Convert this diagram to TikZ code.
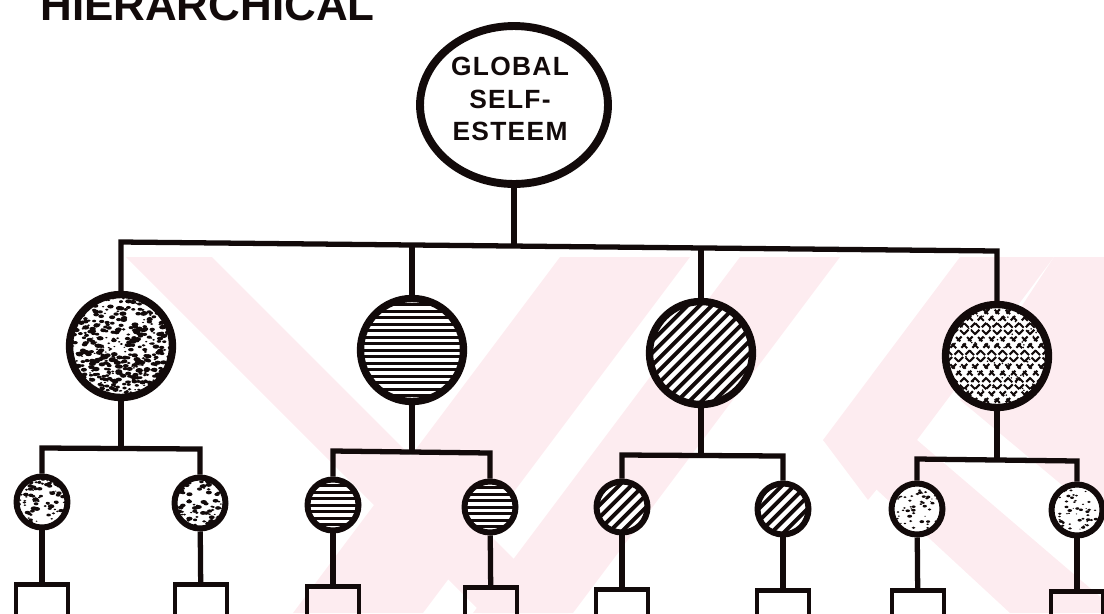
\documentclass[tikz,border=0pt]{standalone}
\usepackage{fontspec}
\setmainfont{Liberation Sans}
\newfontfamily\lblfont[LetterSpace=5]{Liberation Sans}
\newfontfamily\titlefont{Liberation Sans}
\usetikzlibrary{shapes.geometric,calc}
\definecolor{wm}{RGB}{253,236,240}
\definecolor{ink}{RGB}{18,10,10}
\tikzset{
  conn/.style={line width=3pt, draw=ink, line join=miter},
  bigc/.style={circle, draw=ink, line width=4.2pt, minimum size=2.06cm, inner sep=0pt, fill=white},
  smallc/.style={circle, draw=ink, line width=3.4pt, minimum size=1.02cm, inner sep=0pt, fill=white},
  leaf/.style={rectangle, draw=ink, line width=2.8pt, minimum width=1.04cm, minimum height=1.4cm, inner sep=0pt, anchor=north},
  hlines/.style 2 args={path picture={
      \path (path picture bounding box.center) coordinate (pc);
      \foreach \i in {-9,...,9}{\draw[ink, line width=#2] ($(pc)+(-60,\i*#1)$) -- ++(120,0);}}},
  diag/.style 2 args={path picture={
      \path (path picture bounding box.center) coordinate (pc);
      \foreach \i in {-10,...,10}{\draw[ink, line width=#2] ($(pc)+(\i*#1-60,60)$) -- ++(120,-120);}}},
  speck/.style n args={3}{path picture={
      \path (path picture bounding box.center) coordinate (pc);
      \foreach \k in {1,...,#1}{
        \pgfmathsetmacro\rx{rand*#2}
        \pgfmathsetmacro\ry{rand*#2}
        \pgfmathsetmacro\rr{#3*(0.4+1.1*rnd)}
        \pgfmathsetmacro\ra{180*rnd}
        \fill[ink, rotate around={\ra:($(pc)+(\rx,\ry)$)}] ($(pc)+(\rx,\ry)$) ellipse[x radius=1.6*\rr pt, y radius=\rr pt];}}},
  xhatch/.style 2 args={path picture={
      \path (path picture bounding box.center) coordinate (pc);
      \foreach \i in {-10,...,10}{
        \draw[ink, line width=1.2pt, dash pattern=on 3.5pt off 2pt] ($(pc)+(\i*#1-60,60)$) -- ++(120,-120);
        \draw[ink, line width=1.2pt, dash pattern=on 3.5pt off 2pt] ($(pc)+(\i*#1-60,-60)$) -- ++(120,120);}
      \foreach \k in {1,...,#2}{
        \pgfmathsetmacro\rx{rand*55}
        \pgfmathsetmacro\ry{rand*55}
        \fill[ink] ($(pc)+(\rx,\ry)$) circle[radius=0.5pt];}}},
}
\begin{document}
\begin{tikzpicture}[x=0.02cm, y=-0.02cm]
\pgfmathsetseed{7}
\useasboundingbox (0,0) rectangle (1104,613);
\clip (0,0) rectangle (1104,613);
% watermark
\begin{scope}
\fill[wm] (126,257) -- (212,257) -- (568,613) -- (482,613) -- cycle;
\fill[wm] (560,257) -- (690,257) -- (423,613) -- (293,613) -- cycle;
\fill[wm] (740,257) -- (840,257) -- (573,613) -- (473,613) -- cycle;
\fill[wm] (960,257) -- (1054,257) -- (917,440) -- (868,500) -- (823,440) -- cycle;
\fill[wm] (823,440) -- (917,440) -- (1104,600) -- (1104,613) -- (1010,613) -- cycle;
\fill[wm] (1054,257) -- (1104,257) -- (1104,520) -- (960,400) -- cycle;
\end{scope}
% title
\node[font=\titlefont\bfseries\fontsize{25}{28}\selectfont, anchor=base west, inner sep=0pt, text=ink] (title) at (40,20) {HIERARCHICAL};
% top node
\node[ellipse, draw=ink, line width=4.5pt, minimum width=3.76cm, minimum height=3.16cm, inner sep=0pt, fill=white] (g) at (514,105) {};
\node[font=\lblfont\bfseries\fontsize{15}{18.4}\selectfont, align=center, text=ink, inner sep=0pt] (gt) at (510,99) {GLOBAL\\SELF-\\ESTEEM};
% level 1
\node[bigc, speck={650}{53}{0.85}] (c1) at (121,346) {};
\node[bigc, hlines={6.5}{1.7pt}] (c2) at (412,350) {};
\node[bigc, diag={12.2}{2.2pt}] (c3) at (701,353) {};
\node[bigc, xhatch={11}{160}] (c4) at (997,356) {};
% level 2
\node[smallc, speck={130}{28}{0.8}] (s11) at (42,502) {};
\node[smallc, speck={140}{28}{0.8}] (s12) at (200,503) {};
\node[smallc, hlines={6.5}{1.7pt}] (s21) at (333,505) {};
\node[smallc, hlines={6.5}{1.7pt}] (s22) at (490,507) {};
\node[smallc, diag={12.2}{2.2pt}] (s31) at (622,507) {};
\node[smallc, diag={12.2}{2.2pt}] (s32) at (783,509) {};
\node[smallc, speck={50}{20}{0.6}] (s41) at (917,509) {};
\node[smallc, speck={50}{20}{0.6}] (s42) at (1077,510) {};
% leaves
\node[leaf] (k11) at (42,582) {};
\node[leaf] (k12) at (201,582) {};
\node[leaf] (k21) at (333,584) {};
\node[leaf] (k22) at (491,585) {};
\node[leaf] (k31) at (622,587) {};
\node[leaf] (k32) at (783,588) {};
\node[leaf] (k41) at (918,588) {};
\node[leaf] (k42) at (1077,589) {};
% junction coordinates
\coordinate (b1) at (121,242);
\coordinate (b2) at (412,245);
\coordinate (b3) at (701,248);
\coordinate (b4) at (997,251);
\coordinate (b0) at (514,246);
\coordinate (m1) at (121,448);
\coordinate (m2) at (412,452);
\coordinate (m3) at (701,455);
\coordinate (m4) at (997,460);
\coordinate (l11) at (42,448);  \coordinate (l12) at (200,449);
\coordinate (l21) at (333,451); \coordinate (l22) at (490,453);
\coordinate (l31) at (622,455); \coordinate (l32) at (783,456);
\coordinate (l41) at (917,459); \coordinate (l42) at (1077,461);
% connectors
\draw[conn] (g) -- (b0);
\draw[conn] (c1) -- (b1) -- (b4) -- (c4);
\draw[conn] (c2) -- (b2);
\draw[conn] (c3) -- (b3);
\draw[conn] (c1) -- (m1);
\draw[conn] (c2) -- (m2);
\draw[conn] (c3) -- (m3);
\draw[conn] (c4) -- (m4);
\draw[conn] (s11) -- (l11) -- (l12) -- (s12);
\draw[conn] (s21) -- (l21) -- (l22) -- (s22);
\draw[conn] (s31) -- (l31) -- (l32) -- (s32);
\draw[conn] (s41) -- (l41) -- (l42) -- (s42);
\foreach \a/\b in {s11/k11,s12/k12,s21/k21,s22/k22,s31/k31,s32/k32,s41/k41,s42/k42}
  \draw[conn] (\a) -- (\b);
\end{tikzpicture}
\end{document}
